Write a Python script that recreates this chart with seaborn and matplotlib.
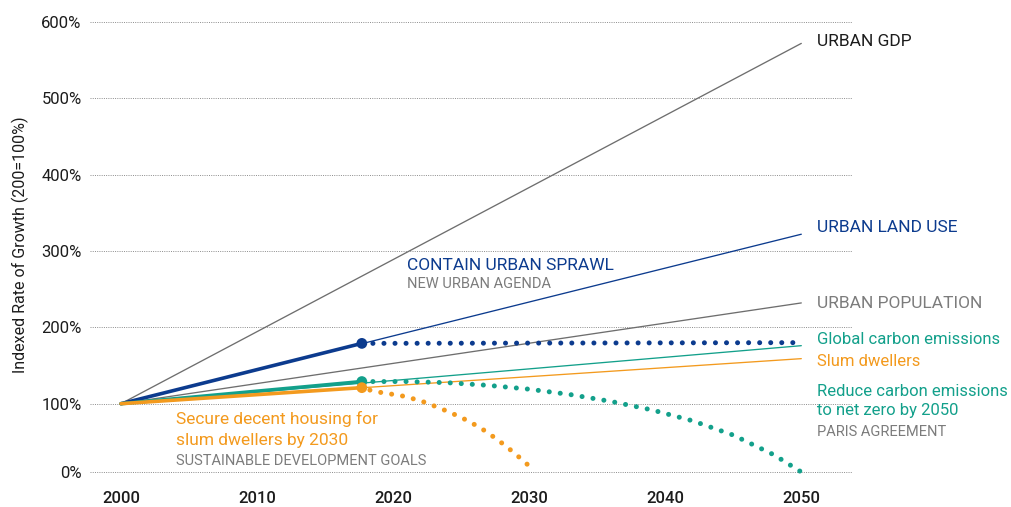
import numpy as np
import pandas as pd
import matplotlib
matplotlib.use("Agg")
import matplotlib.pyplot as plt
import seaborn as sns

# ---------------- data ----------------
years_full = [2000, 2050]
gdp = [100, 572]
land_use = [100, 322]
population = [100, 232]
carbon = [100, 176]
slum = [100, 159]

years_now = [2000, 2017.7]
land_now = [100, 179]
carbon_now = [100, 129]
slum_now = [100, 121]

sprawl_years = [2017.7, 2050]
sprawl_vals = [179, 180]

netzero_years = [2017.7, 2021, 2024, 2027, 2030, 2033, 2036, 2039, 2042, 2045, 2048, 2050]
netzero_vals = [129, 129, 127.5, 124, 119, 112, 103, 91, 75, 54, 25, 0]

housing_years = [2017.5, 2019, 2020.6, 2022, 2023.5, 2025, 2026.4, 2027.7, 2028.9, 2030.1, 2030.4]
housing_vals = [121, 115, 110.5, 104, 93, 80, 65, 47, 28, 7, 0]

x_ticks = [2000, 2010, 2020, 2030, 2040, 2050]
y_ticks = [0, 100, 200, 300, 400, 500, 600]
y_ticklabels = ["0%", "100%", "200%", "300%", "400%", "500%", "600%"]

# ---------------- style ----------------
BLUE = "#0c3b8e"
TEAL = "#13a08b"
ORANGE = "#f39a1e"
GRAY = "#6e6e6e"
LGRAY = "#7c7c7c"
DARK = "#1c1c1c"

sns.set_theme(style="white")
plt.rcParams["font.family"] = ["Roboto", "DejaVu Sans"]

W, H = 1012, 507
fig = plt.figure(figsize=(W / 100, H / 100), dpi=100)
ax = fig.add_axes([90 / W, (H - 480) / H, (853 - 90) / W, 465 / H])

def fwd(v):
    v = np.asarray(v, dtype=float)
    return np.where(v >= 100, v, 100 - (100 - v) * 0.895)

def inv(u):
    u = np.asarray(u, dtype=float)
    return np.where(u >= 100, u, 100 - (100 - u) / 0.895)

ax.set_yscale("function", functions=(fwd, inv))

# thin full-period lines
for vals, col in [(gdp, GRAY), (population, GRAY), (land_use, BLUE), (carbon, TEAL), (slum, ORANGE)]:
    sns.lineplot(x=years_full, y=vals, ax=ax, color=col, linewidth=0.95,
                 estimator=None, sort=False, zorder=3)

# thick observed segments
for vals, col in [(land_now, BLUE), (carbon_now, TEAL), (slum_now, ORANGE)]:
    sns.lineplot(x=years_now, y=vals, ax=ax, color=col, linewidth=2.6,
                 estimator=None, sort=False, zorder=4, solid_capstyle="round")

# dotted target paths
for xs, vals, col in [(sprawl_years, sprawl_vals, BLUE),
                      (netzero_years, netzero_vals, TEAL),
                      (housing_years, housing_vals, ORANGE)]:
    lp = sns.lineplot(x=xs, y=vals, ax=ax, color=col, linewidth=3.6,
                      estimator=None, sort=False, zorder=5)
    ln = lp.lines[-1]
    ln.set_linestyle((0, (0.01, 2.2)))
    ln.set_dash_capstyle("round")

# current-state dots
dots = pd.DataFrame({"year": [years_now[1]] * 3,
                     "val": [land_now[1], carbon_now[1], slum_now[1]],
                     "c": [BLUE, TEAL, ORANGE]})
for _, r in dots.iterrows():
    sns.scatterplot(x=[r["year"]], y=[r["val"]], ax=ax, color=r["c"], s=60,
                    edgecolor="none", zorder=6)

ax.set_xlim(1997.72, 2053.8)
ax.set_ylim(-11.7, 609.2)
ax.set_xticks(x_ticks)
ax.set_xticklabels([str(x) for x in x_ticks], fontsize=12, color=DARK, fontweight="medium")
ax.set_yticks(y_ticks)
ax.set_yticklabels(y_ticklabels, fontsize=12, color=DARK)
ax.tick_params(axis="both", length=0)
ax.tick_params(axis="x", pad=8)
ax.tick_params(axis="y", pad=6)
ax.set_xlabel("")
ax.set_ylabel("")
for s in ax.spines.values():
    s.set_visible(False)
ax.set_axisbelow(True)
ax.yaxis.grid(True, color="#8c8c8c", linestyle=(0, (1, 1.3)), linewidth=0.7)
ax.xaxis.grid(False)

fig.text(20 / W, 1 - 245 / H, "Indexed Rate of Growth (200=100%)", rotation=90,
         ha="center", va="center", fontsize=11.5, color=DARK)

def label(x, y, s, color, size=12.5):
    fig.text(x / W, 1 - y / H, s, ha="left", va="center", fontsize=size, color=color)

label(817, 41, "URBAN GDP", DARK)
label(817, 227, "URBAN LAND USE", BLUE)
label(817, 304, "URBAN POPULATION", LGRAY)
label(817, 340, "Global carbon emissions", TEAL, 12)
label(817, 361, "Slum dwellers", ORANGE, 12)
label(817, 391, "Reduce carbon emissions", TEAL, 12)
label(817, 411, "to net zero by 2050", TEAL, 12)
label(817, 432, "PARIS AGREEMENT", LGRAY, 10.5)
label(407, 265, "CONTAIN URBAN SPRAWL", BLUE)
label(407, 284, "NEW URBAN AGENDA", LGRAY, 10.5)
label(176, 419, "Secure decent housing for", ORANGE, 12.5)
label(176, 440, "slum dwellers by 2030", ORANGE, 12.5)
label(176, 461, "SUSTAINABLE DEVELOPMENT GOALS", LGRAY, 10.5)

fig.savefig("out.png", dpi=100)
